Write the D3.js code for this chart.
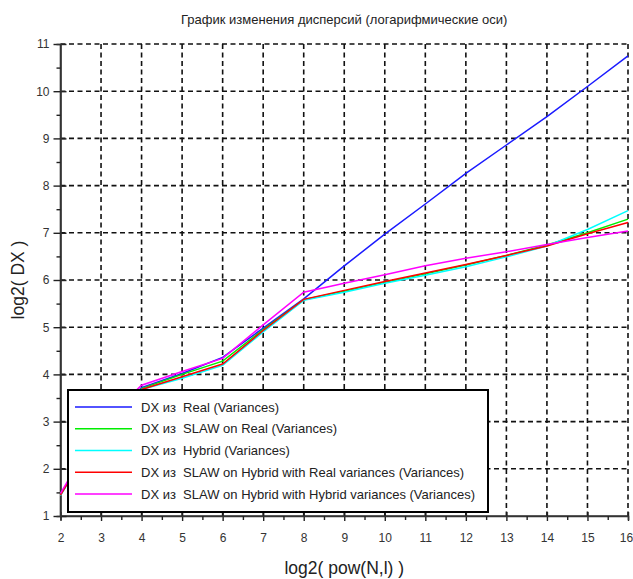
<!DOCTYPE html>
<html>
<head>
<meta charset="utf-8">
<script src="https://cdn.jsdelivr.net/npm/d3@7"></script>
<style>
  body { margin: 0; background: #fff; }
  text { font-family: "Liberation Sans", Arial, sans-serif; }
</style>
</head>
<body>
<svg id="chart" width="633" height="579"></svg>
<script>
// x = log2(pow(N,l))
const xValues = [2, 3, 4, 5, 6, 7, 8, 9, 10, 11, 12, 13, 14, 15, 16];

const real       = [1.45, 2.90, 3.72, 4.02, 4.36, 4.98, 5.60, 6.30, 6.97, 7.61, 8.26, 8.86, 9.46, 10.10, 10.75];
const slawReal   = [1.45, 2.90, 3.70, 4.00, 4.28, 4.95, 5.58, 5.76, 5.95, 6.13, 6.32, 6.52, 6.74, 7.00, 7.29];
const hybrid     = [1.43, 2.88, 3.68, 3.92, 4.19, 4.90, 5.57, 5.74, 5.93, 6.10, 6.28, 6.49, 6.72, 7.07, 7.47];
const slawHybR   = [1.44, 2.88, 3.68, 3.95, 4.22, 4.93, 5.59, 5.78, 5.97, 6.15, 6.33, 6.52, 6.72, 6.98, 7.22];
const slawHybH   = [1.48, 2.95, 3.77, 4.06, 4.34, 5.05, 5.74, 5.93, 6.11, 6.30, 6.46, 6.60, 6.75, 6.90, 7.04];

const seriesNames = [
  'DX из  Real (Variances)',
  'DX из  SLAW on Real (Variances)',
  'DX из  Hybrid (Variances)',
  'DX из  SLAW on Hybrid with Real variances (Variances)',
  'DX из  SLAW on Hybrid with Hybrid variances (Variances)'
];
const seriesValues = [real, slawReal, hybrid, slawHybR, slawHybH];
const colors = ['#1a1aff', '#00ee00', '#00ffff', '#ff0000', '#ff00ff'];

const xTicks = d3.range(2, 17, 1);
const yTicks = d3.range(1, 12, 1);

const svg = d3.select('#chart');
const pl = 60.5, pr = 628, pt = 44, pb = 516;

const x = d3.scaleLinear().domain([2, 16]).range([pl, pr]);
const y = d3.scaleLinear().domain([1, 11]).range([pb, pt]);

svg.append('rect').attr('width', 633).attr('height', 579).attr('fill', '#fff');

// title
svg.append('text')
  .attr('x', (pl + pr) / 2)
  .attr('y', 24)
  .attr('text-anchor', 'middle')
  .attr('font-size', 13)
  .attr('fill', '#222')
  .text('График изменения дисперсий (логарифмические оси)');

// dashed grid
const grid = svg.append('g').attr('stroke', '#111').attr('stroke-width', 1.6)
  .attr('stroke-dasharray', '5,3.5');
grid.selectAll('.vg')
  .data(xTicks.filter(d => d > 2))
  .enter().append('line')
  .attr('x1', d => x(d)).attr('x2', d => x(d))
  .attr('y1', y(11)).attr('y2', y(1));
grid.selectAll('.hg')
  .data(yTicks.filter(d => d > 1))
  .enter().append('line')
  .attr('x1', x(2)).attr('x2', x(16))
  .attr('y1', d => y(d)).attr('y2', d => y(d));

// axes
const xAxis = svg.append('g')
  .attr('transform', `translate(0,${pb})`)
  .call(d3.axisBottom(x).tickValues(xTicks).tickSize(5).tickPadding(12).tickFormat(d3.format('d')));
xAxis.selectAll('.tick line').attr('y1', -4);
const xMinor = svg.append('g')
  .attr('transform', `translate(0,${pb})`)
  .call(d3.axisBottom(x).tickValues(d3.range(2.5, 16, 1)).tickSize(4).tickFormat(''));

const yAxis = svg.append('g')
  .attr('transform', `translate(${pl},0)`)
  .call(d3.axisLeft(y).tickValues(yTicks).tickSize(7).tickPadding(4).tickFormat(d3.format('d')));
yAxis.selectAll('.tick line').attr('x1', 6);
const yMinor = svg.append('g')
  .attr('transform', `translate(${pl},0)`)
  .call(d3.axisLeft(y).tickValues(d3.range(1.5, 11, 1)).tickSize(4).tickFormat(''));

[xAxis, xMinor, yAxis, yMinor].forEach(g => {
  g.select('.domain').attr('stroke', '#333').attr('stroke-width', 1.6);
  g.selectAll('.tick line').attr('stroke', '#222').attr('stroke-width', 1.4);
  g.selectAll('.tick text').attr('font-size', 12).attr('fill', '#333')
    .attr('font-family', '"Liberation Sans", Arial, sans-serif');
});
xAxis.select('.domain').attr('d', `M${pl},0H${pr}`);
yAxis.select('.domain').attr('d', `M0,${pb}V${pt}`);
// keep the last x label inside the picture
xAxis.selectAll('.tick text').filter(d => d === 16).attr('dx', -2);

// axis titles
svg.append('text')
  .attr('x', (pl + pr) / 2)
  .attr('y', 574)
  .attr('text-anchor', 'middle')
  .attr('font-size', 17.5)
  .attr('fill', '#222')
  .text('log2( pow(N,l) )');
svg.append('text')
  .attr('transform', `translate(24,${(pt + pb) / 2}) rotate(-90)`)
  .attr('text-anchor', 'middle')
  .attr('font-size', 17.5)
  .attr('fill', '#222')
  .text('log2( DX )');

// series
const line = d3.line().x((d, i) => x(xValues[i])).y(d => y(d));
svg.selectAll('.series')
  .data(seriesValues)
  .enter().append('path')
  .attr('class', 'series')
  .attr('d', d => line(d))
  .attr('fill', 'none')
  .attr('stroke', (d, i) => colors[i])
  .attr('stroke-width', 1.5);

// legend
const legend = svg.append('g');
legend.append('rect')
  .attr('x', 68).attr('y', 390).attr('width', 420).attr('height', 122)
  .attr('fill', '#fff').attr('stroke', '#000').attr('stroke-width', 2);
const rowY = d3.scaleLinear().domain([0, 4]).range([407, 494]);
const rows = legend.selectAll('.lg')
  .data(seriesNames)
  .enter().append('g')
  .attr('transform', (d, i) => `translate(0,${rowY(i)})`);
rows.append('line')
  .attr('x1', 75).attr('x2', 132)
  .attr('stroke', (d, i) => colors[i]).attr('stroke-width', 1.6);
rows.append('text')
  .attr('x', 141).attr('dy', '0.35em')
  .attr('font-size', 13).attr('fill', '#222')
  .style('white-space', 'pre')
  .text(d => d);
</script>
</body>
</html>
